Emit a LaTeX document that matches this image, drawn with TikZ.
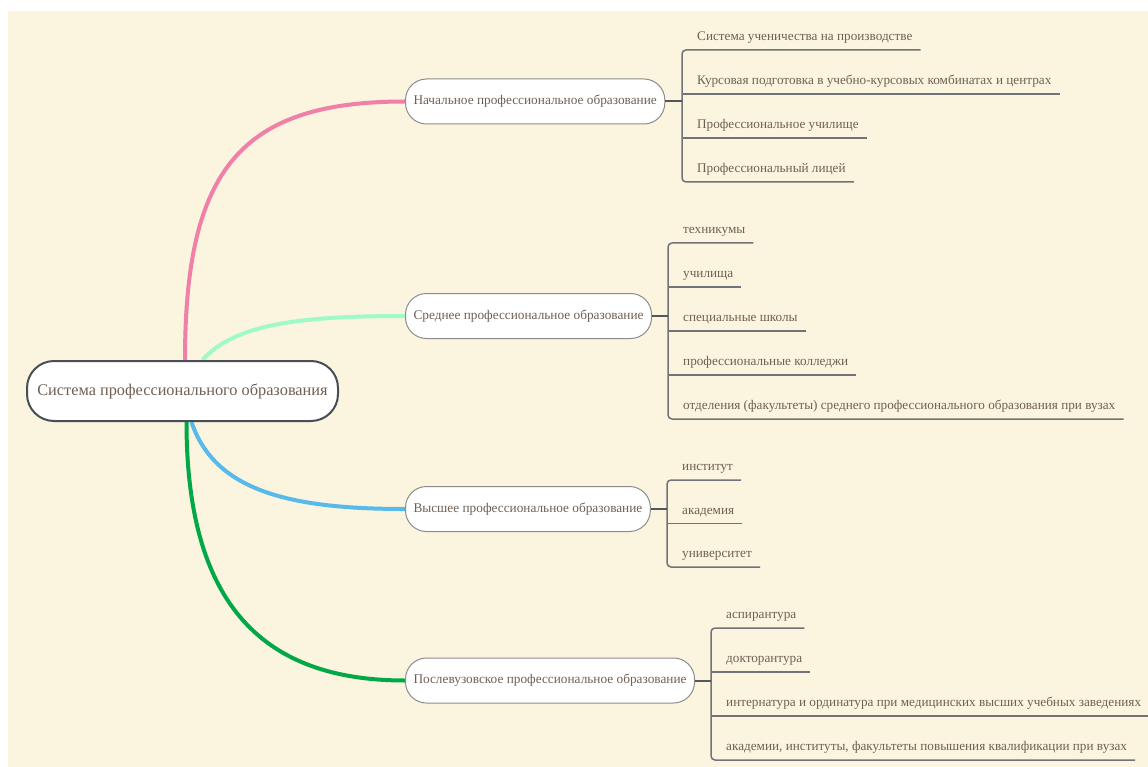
\documentclass[tikz,border=0pt]{standalone}
\usepackage{fontspec}
\setmainfont{Liberation Serif}
\usepackage{xcolor}
\usepackage{tikz}
\usetikzlibrary{backgrounds}

\definecolor{paper}{RGB}{251,244,222}
\definecolor{ink}{RGB}{112,96,84}
\definecolor{rootline}{RGB}{72,78,86}
\definecolor{boxline}{RGB}{140,140,140}
\definecolor{leafline}{RGB}{112,116,122}
\definecolor{stubline}{RGB}{84,88,94}
\definecolor{pinkarm}{RGB}{240,128,168}
\definecolor{mintarm}{RGB}{160,250,200}
\definecolor{bluearm}{RGB}{88,185,235}
\definecolor{greenarm}{RGB}{0,168,72}

\begin{document}
\begin{tikzpicture}[x=1pt,y=-1pt,
  rootbox/.style={draw=rootline,line width=2pt,fill=white,rounded corners=27pt,
    minimum width=311pt,minimum height=60pt,text=ink,font=\fontsize{16.3}{19}\selectfont},
  branchbox/.style={draw=boxline,line width=1pt,fill=white,rounded corners=21pt,
    minimum height=45pt,inner xsep=8pt,anchor=west,text=ink,font=\fontsize{13.3}{16}\selectfont},
  leaf/.style={anchor=south west,inner xsep=0pt,inner ysep=0pt,text depth=9pt,text=ink,
    font=\fontsize{13.2}{16}\selectfont,
    execute at begin node={\hspace*{15pt}},execute at end node={\hspace*{8pt}}},
  uline/.style={draw=leafline,line width=1.5pt},
  stub/.style={draw=stubline,line width=2pt},
  arm/.style={line width=4pt}]
\useasboundingbox (0,0) rectangle (1148,767);

% root and branches
\node[rootbox] (root) at (182.5,391) {Система профессионального образования};
\node[branchbox] (b1) at (405,101.5) {Начальное профессиональное образование};
\node[branchbox] (b2) at (405,316) {Среднее профессиональное образование};
\node[branchbox] (b3) at (405,509) {Высшее профессиональное образование};
\node[branchbox] (b4) at (405,680.5) {Послевузовское профессиональное образование};

% leaves
\node[leaf] (l11) at (682,50) {Система ученичества на производстве};
\node[leaf] (l12) at (682,94) {Курсовая подготовка в учебно-курсовых комбинатах и центрах};
\node[leaf] (l13) at (682,138) {Профессиональное училище};
\node[leaf] (l14) at (682,182) {Профессиональный лицей};

\node[leaf] (l21) at (668,243) {техникумы};
\node[leaf] (l22) at (668,287) {училища};
\node[leaf] (l23) at (668,331) {специальные школы};
\node[leaf] (l24) at (668,375) {профессиональные колледжи};
\node[leaf] (l25) at (668,419) {отделения (факультеты) среднего профессионального образования при вузах};

\node[leaf] (l31) at (667,480) {институт};
\node[leaf] (l32) at (667,523.5) {академия};
\node[leaf] (l33) at (667,567) {университет};

\node[leaf] (l41) at (711,628) {аспирантура};
\node[leaf] (l42) at (711,672) {докторантура};
\node[leaf] (l43) at (711,716) {интернатура и ординатура при медицинских высших учебных заведениях};
\node[leaf] (l44) at (711,760) {академии, институты, факультеты повышения квалификации при вузах};

% brackets
\draw[uline,rounded corners=4pt] (l11.south east) -- (l11.south west) -- (l14.south west) -- (l14.south east);
\draw[uline] (l12.south west) -- (l12.south east);
\draw[uline] (l13.south west) -- (l13.south east);
\draw[stub] (b1.east) -- (b1.east -| l11.south west);

\draw[uline,rounded corners=4pt] (l21.south east) -- (l21.south west) -- (l25.south west) -- (l25.south east);
\draw[uline] (l22.south west) -- (l22.south east);
\draw[uline] (l23.south west) -- (l23.south east);
\draw[uline] (l24.south west) -- (l24.south east);
\draw[stub] (b2.east) -- (b2.east -| l21.south west);

\draw[uline,rounded corners=4pt] (l31.south east) -- (l31.south west) -- (l33.south west) -- (l33.south east);
\draw[uline] (l32.south west) -- (l32.south east);
\draw[stub] (b3.east) -- (b3.east -| l31.south west);

\draw[uline,rounded corners=4pt] (l41.south east) -- (l41.south west) -- (l44.south west) -- (l44.south east);
\draw[uline] (l42.south west) -- (l42.south east);
\draw[uline] (l43.south west) -- (l43.south east);
\draw[stub] (b4.east) -- (b4.east -| l41.south west);

% paper and arms behind the boxes
\begin{scope}[on background layer]
\fill[white] (0,0) rectangle (1148,767);
\fill[paper] (8,11) rectangle (1148,767);
\draw[arm,pinkarm] ([xshift=2.5pt]root.north) .. controls +(0,-190) and +(-165,0) .. (b1.west);
\draw[arm,mintarm] ([xshift=20pt]root.north) .. controls +(32,-36) and +(-105,0) .. (b2.west);
\draw[arm,bluearm] ([xshift=9pt]root.south) .. controls +(23,69) and +(-115,0) .. (b3.west);
\draw[arm,greenarm] ([xshift=4pt]root.south) .. controls +(0,185) and +(-140,0) .. (b4.west);
\end{scope}
\end{tikzpicture}
\end{document}
